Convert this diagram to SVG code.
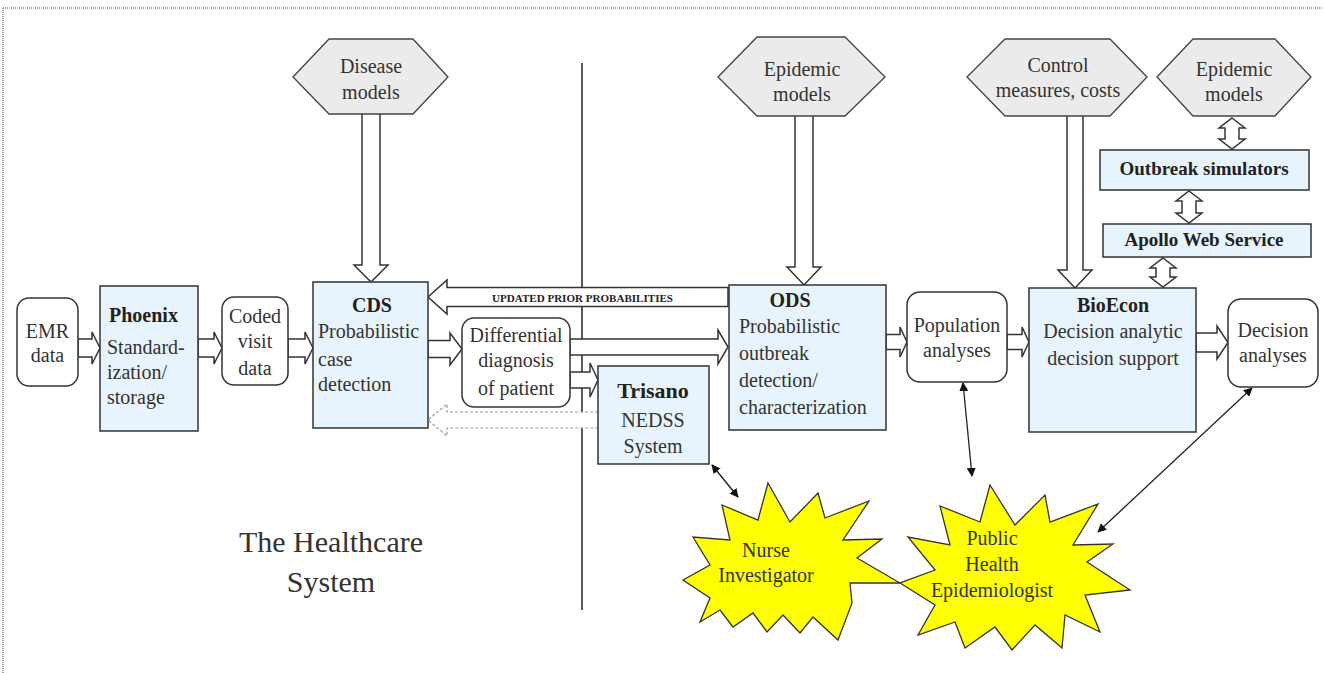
<svg xmlns="http://www.w3.org/2000/svg" width="1323" height="673" viewBox="0 0 1323 673">
<defs>
<style>
text{font-family:"Liberation Serif","Times New Roman",serif;fill:#333;font-size:20px}
.b{font-weight:bold;fill:#222}
.c{text-anchor:middle}
.box{fill:#e8f4fd;stroke:#333;stroke-width:1.5}
.rbox{fill:#fff;stroke:#333;stroke-width:1.5}
.hex{fill:#ebebeb;stroke:#444;stroke-width:1.3}
.star{fill:#ffff00;stroke:#333;stroke-width:1.3}
.ba{fill:#fff;stroke:#333;stroke-width:1.5;stroke-linejoin:miter}
.da{fill:#fff;stroke:#999;stroke-width:1.2;stroke-dasharray:3 2}
.thin{stroke:#222;stroke-width:1.3;fill:none;marker-start:url(#ah);marker-end:url(#ah)}
</style>
<marker id="ah" viewBox="0 0 10 10" refX="9" refY="5" markerWidth="9" markerHeight="9" markerUnits="userSpaceOnUse" orient="auto-start-reverse">
<path d="M0,0 L10,5 L0,10 Z" fill="#111"/>
</marker>
</defs>
<rect width="1323" height="673" fill="#fff"/>
<path d="M3,8 H1323 M3,8 V673" stroke="#888" stroke-width="1.5" stroke-dasharray="1 1" fill="none"/>
<line x1="582" y1="63" x2="582" y2="610" stroke="#222" stroke-width="1.5"/>

<g id="connectors">
<path class="ba" d="M78,339 H92 V332 L100,348 L92,364 V357 H78 Z"/>
<path class="ba" d="M198,339 H214 V332 L222,348 L214,364 V357 H198 Z"/>
<path class="ba" d="M288,339 H305 V332 L313,348 L305,364 V357 H288 Z"/>
<path class="ba" d="M428,340.5 H450 V333 L462,349 L450,365 V357.5 H428 Z"/>
<path class="ba" d="M570,339 H718 V330 L728,347 L718,364 V355 H570 Z"/>
<path class="ba" d="M570,372 H590 V363 L598,380 L590,397 V388 H570 Z"/>
<path class="ba" d="M886,334.5 H900 V327 L907,342 L900,357 V349.5 H886 Z"/>
<path class="ba" d="M1007,334.5 H1022 V327 L1029,342 L1022,357 V349.5 H1007 Z"/>
<path class="ba" d="M1196,333 H1217 V326 L1228,342.5 L1217,359 V352 H1196 Z"/>
<path class="ba" d="M728,287.5 H447 V280 L428,297 L447,314 V306.5 H728 Z"/>
<path class="da" d="M598,412 H447 V404 L428,420 L447,436 V428 H598"/>
<path class="ba" d="M362,114 V265 H354 L371,282 L388,265 H380 V114"/>
<path class="ba" d="M795,116 V267 H787 L804,285 L821,267 H813 V116"/>
<path class="ba" d="M1067,116 V270 H1058 L1075,288 L1092,270 H1083 V116"/>
<path class="ba" d="M1232,118 L1245,128 L1239,128 L1239,139 L1245,139 L1232,149 L1219,139 L1225,139 L1225,128 L1219,128 Z"/>
<path class="ba" d="M1189,191 L1202,201 L1196,201 L1196,213 L1202,213 L1189,223 L1176,213 L1182,213 L1182,201 L1176,201 Z"/>
<path class="ba" d="M1163,258 L1176,268 L1170,268 L1170,277 L1176,277 L1163,287 L1150,277 L1156,277 L1156,268 L1150,268 Z"/>
<line class="thin" x1="712" y1="465" x2="738" y2="497"/>
<line class="thin" x1="963" y1="383" x2="972" y2="476"/>
<line class="thin" x1="1252" y1="388" x2="1098" y2="532"/>
<text x="582.5" y="302" class="b c" style="font-size:9.5px" textLength="181" lengthAdjust="spacingAndGlyphs">UPDATED PRIOR PROBABILITIES</text>
</g>

<g id="emr"><rect class="rbox" x="17" y="298" width="61" height="88" rx="12"/>
<text class="c" x="47.5" y="338">EMR</text><text class="c" x="47.5" y="362">data</text></g>

<g id="phoenix"><rect class="box" x="100" y="286" width="98" height="145"/>
<text class="b" x="109" y="322">Phoenix</text>
<text x="107" y="354">Standard-</text><text x="107" y="379">ization/</text><text x="107" y="404">storage</text></g>

<g id="coded"><rect class="rbox" x="222" y="297" width="66" height="88" rx="12"/>
<text class="c" x="255" y="323">Coded</text><text class="c" x="255" y="348">visit</text><text class="c" x="255" y="375">data</text></g>

<g id="cds"><rect class="box" x="313" y="282" width="115" height="146"/>
<text class="b c" x="372" y="312">CDS</text>
<text x="318" y="338">Probabilistic</text><text x="318" y="366">case</text><text x="318" y="391">detection</text></g>

<g id="diff"><rect class="rbox" x="462" y="318" width="108" height="89" rx="12"/>
<text class="c" x="516" y="342">Differential</text><text class="c" x="516" y="367">diagnosis</text><text class="c" x="516" y="395">of patient</text></g>

<g id="trisano"><rect class="box" x="598" y="366" width="111" height="98"/>
<text class="b c" x="653" y="398" style="font-size:22px">Trisano</text>
<text class="c" x="653" y="427">NEDSS</text><text class="c" x="653" y="453">System</text></g>

<g id="ods"><rect class="box" x="729" y="285" width="157" height="145"/>
<text class="b c" x="790" y="307">ODS</text>
<text x="739" y="333">Probabilistic</text><text x="739" y="360">outbreak</text><text x="739" y="387">detection/</text><text x="739" y="414">characterization</text></g>

<g id="population"><rect class="rbox" x="907" y="292" width="100" height="90" rx="13"/>
<text class="c" x="957" y="332">Population</text><text class="c" x="957" y="357">analyses</text></g>

<g id="bioecon"><rect class="box" x="1029" y="288" width="167" height="144"/>
<text class="b c" x="1113" y="312">BioEcon</text>
<text class="c" x="1113" y="338">Decision analytic</text><text class="c" x="1113" y="365">decision support</text></g>

<g id="decision"><rect class="rbox" x="1228" y="299" width="90" height="88" rx="13"/>
<text class="c" x="1273" y="337">Decision</text><text class="c" x="1273" y="362">analyses</text></g>

<g id="outbreak"><rect class="box" x="1100" y="150" width="209" height="40"/>
<text class="b c" x="1204" y="175" style="font-size:19px">Outbreak simulators</text></g>

<g id="apollo"><rect class="box" x="1103" y="224" width="208" height="33"/>
<text class="b c" x="1204" y="246" style="font-size:19px">Apollo Web Service</text></g>

<g id="disease-models"><polygon class="hex" points="293,77 329,39 413,39 448,77 413,114 329,114"/>
<text class="c" x="371" y="73">Disease</text><text class="c" x="371" y="99">models</text></g>

<g id="epidemic-models-1"><polygon class="hex" points="718,77 757,37 845,37 885,77 845,116 757,116"/>
<text class="c" x="802" y="76">Epidemic</text><text class="c" x="802" y="101">models</text></g>

<g id="control-measures"><polygon class="hex" points="967,77 1005,39 1110,39 1147,77 1110,116 1005,116"/>
<text class="c" x="1058" y="72">Control</text><text class="c" x="1058" y="97">measures, costs</text></g>

<g id="epidemic-models-2"><polygon class="hex" points="1157,77 1193,39 1275,39 1311,77 1275,116 1193,116"/>
<text class="c" x="1234" y="76">Epidemic</text><text class="c" x="1234" y="101">models</text></g>

<g id="nurse"><polygon class="star" points="768,483 790,522 818,493 825,518 869,501 843,540 882,539 857,558 900,583 850,583 852,603 838,640 813,617 800,633 783,615 767,632 753,613 733,627 720,610 700,622 710,598 683,580 710,565 693,537 730,540 722,505 758,520"/>
<text class="c" x="766" y="557">Nurse</text><text class="c" x="766" y="582">Investigator</text></g>

<g id="public-health"><polygon class="star" points="990,485 1015,525 1045,495 1050,522 1098,504 1073,545 1113,544 1087,562 1130,590 1085,595 1100,632 1065,615 1062,648 1035,625 1012,650 995,627 965,648 955,622 918,635 935,605 900,583 935,570 908,537 950,545 940,506 980,522"/>
<text class="c" x="992" y="545">Public</text><text class="c" x="992" y="571">Health</text><text class="c" x="992" y="597">Epidemiologist</text></g>

<g id="healthcare-label"><text class="c" x="331" y="552" style="font-size:30px">The Healthcare</text><text class="c" x="331" y="592" style="font-size:30px">System</text></g>
</svg>
